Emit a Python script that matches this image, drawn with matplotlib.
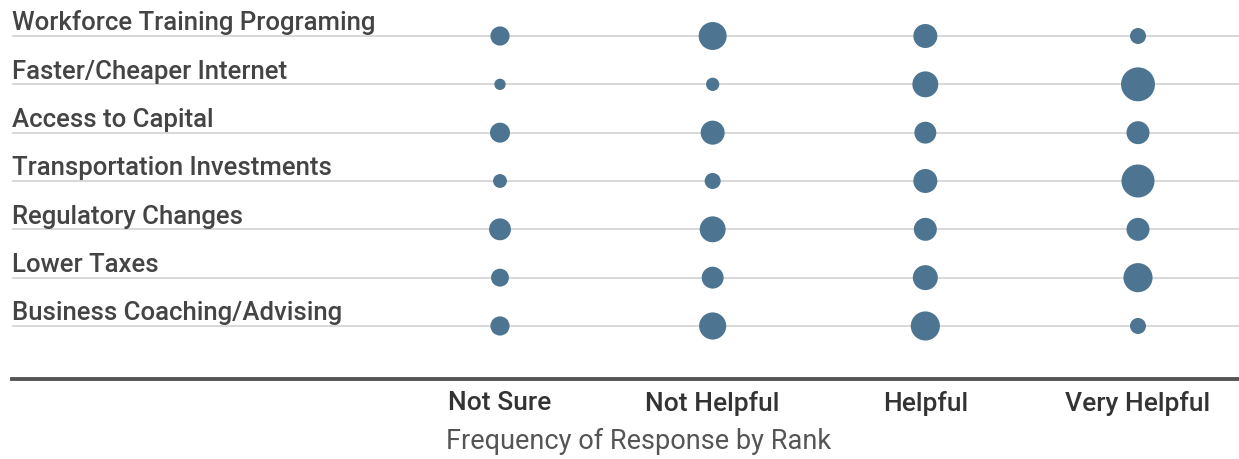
import matplotlib.pyplot as plt

# rows from top to bottom
measures = ["Workforce Training Programing", "Faster/Cheaper Internet", "Access to Capital",
            "Transportation Investments", "Regulatory Changes", "Lower Taxes",
            "Business Coaching/Advising"]
ranks = ["Not Sure", "Not Helpful", "Helpful", "Very Helpful"]

# response frequency per rank
not_sure = [23, 8, 25, 12, 30, 20, 23]
not_helpful = [49, 11, 36, 16, 42, 30, 46]
helpful = [36, 42, 30, 36, 33, 39, 53]
very_helpful = [16, 72, 33, 68, 33, 53, 16]

W, H = 1239, 459
fig = plt.figure(figsize=(W / 100, H / 100), dpi=100)
ax = fig.add_axes([12 / W, (H - 379) / H, 1 - 12 / W, 379 / H])

bubble = "#4d7591"
grid = "#d8d8d8"
text_c = "#444444"
scale = 8.3

x_left = -(500 - 12) / 212.67
x_right = 3 + (1239 - 1138) / 212.67
ax.set_xlim(x_left, x_right)
ax.set_ylim((379 - 36) / 48.33, -36 / 48.33)

for i, name in enumerate(measures):
    ax.plot([x_left, x_right], [i, i], color=grid, lw=1.4, zorder=1, solid_capstyle="butt")
    ax.text(x_left, i - 0.12, name, fontsize=18.5, family="Roboto", fontweight="medium",
            color=text_c, va="baseline", ha="left")

for j, vals in enumerate([not_sure, not_helpful, helpful, very_helpful]):
    ax.scatter([j] * len(vals), range(len(vals)), s=[v * scale for v in vals],
               color=bubble, linewidths=0, zorder=3)

ax.set_xticks(range(len(ranks)))
ax.set_xticklabels(ranks, fontsize=19, family="Roboto", fontweight="medium", color="#333333")
ax.tick_params(axis="x", length=0, pad=8.5)
ax.set_yticks([])
for s in ["top", "left", "right"]:
    ax.spines[s].set_visible(False)
ax.spines["bottom"].set_color("#555555")
ax.spines["bottom"].set_linewidth(2.8)

fig.text(639 / W, (H - 449) / H, "Frequency of Response by Rank", fontsize=19.5,
         family="Roboto", color="#555555", ha="center", va="baseline")

fig.savefig("out.png", dpi=100, facecolor="white")
